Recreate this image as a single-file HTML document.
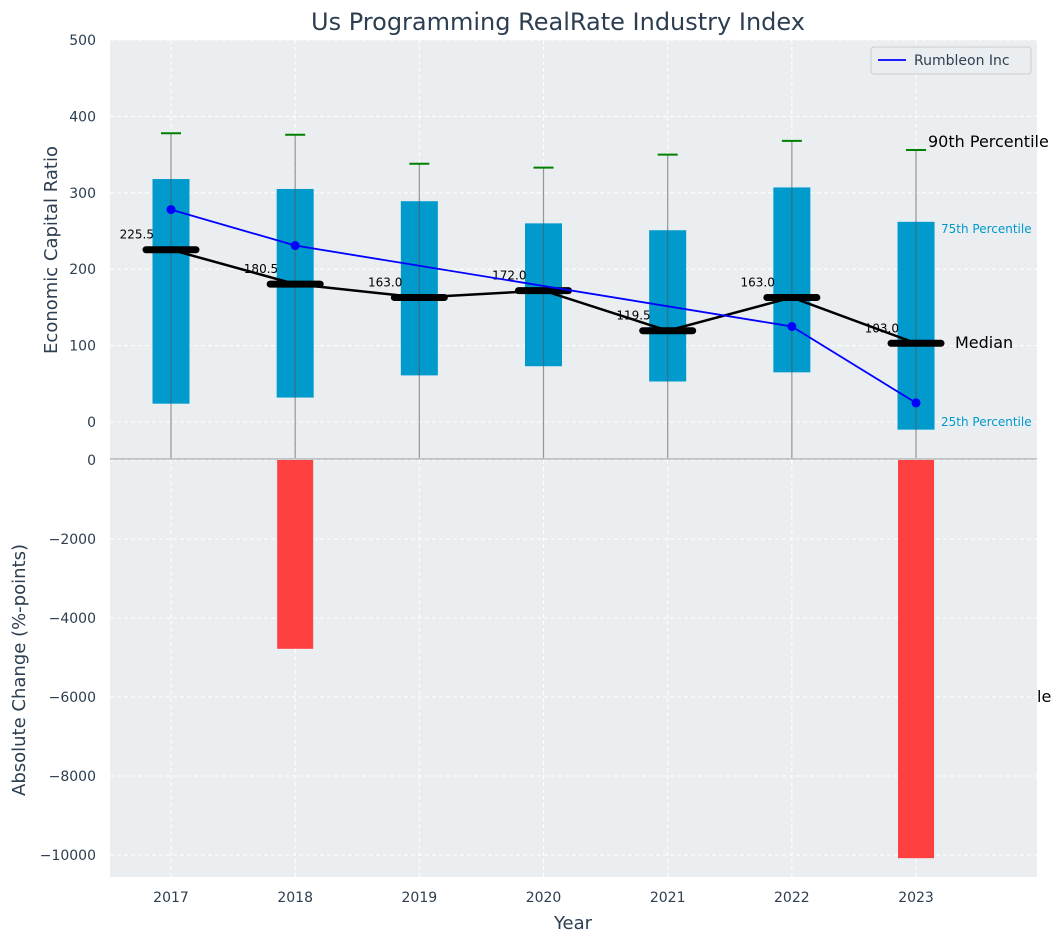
<!DOCTYPE html>
<html><head><meta charset="utf-8"><style>
body{margin:0;background:#fff;font-family:"Liberation Sans","DejaVu Sans",sans-serif;}
svg{display:block}
</style></head><body>
<svg id="chart" width="1063" height="942" viewBox="0 0 1063 942" xmlns="http://www.w3.org/2000/svg" font-family="DejaVu Sans, Liberation Sans, sans-serif"></svg>
<script>
const years=[2017,2018,2019,2020,2021,2022,2023];
const q1=[24,32,61,73,53,65,-10];
const q3=[318,305,289,260,251,307,262];
const p90=[378,376,338,333,350,368,356];
const median=[225.5,180.5,163.0,172.0,119.5,163.0,103.0];
const rumbleon=[278,231,null,null,null,125,25];
const absChange=[0,-4780,0,0,0,0,-10080];
const topTicks=[0,100,200,300,400,500];
const botTicks=[0,-2000,-4000,-6000,-8000,-10000];

const svg=document.getElementById('chart');
const NS='http://www.w3.org/2000/svg';
function mk(t,a,txt){const e=document.createElementNS(NS,t);for(const k in a)e.setAttribute(k,a[k]);if(txt!==undefined)e.textContent=txt;svg.appendChild(e);return e;}
const L=110,R=1037,T1=40,B1=459,T2=459,B2=877;
const xS=y=>171+(y-2017)*124.17;
const y1=v=>422-v*0.764;
const y2=v=>460+(-v)*0.0395;

let e;
e=mk('rect',{x:L,y:T1,width:R-L,height:B1-T1,fill:'#eaeef0'});

e=mk('rect',{x:L,y:T2,width:R-L,height:B2-T2,fill:'#eaeef0'});

// grids
years.forEach(y=>{
  e=mk('line',{x1:xS(y),x2:xS(y),y1:T1,y2:B2,stroke:'#fff','stroke-dasharray':'4,3','stroke-width':1});
  
  e=mk('text',{x:xS(y),y:902,'text-anchor':'middle','font-size':14,fill:'#2c3e50'},y);
  
});
topTicks.forEach(v=>{
  e=mk('line',{x1:L,x2:R,y1:y1(v),y2:y1(v),stroke:'#fff','stroke-dasharray':'4,3'});
  
  e=mk('text',{x:96,y:y1(v)+5,'text-anchor':'end','font-size':14,fill:'#2c3e50'},v);
  
});
botTicks.forEach(v=>{
  e=mk('line',{x1:L,x2:R,y1:y2(v),y2:y2(v),stroke:'#fff','stroke-dasharray':'4,3'});
  
  e=mk('text',{x:96,y:y2(v)+5,'text-anchor':'end','font-size':14,fill:'#2c3e50'},v<0?'\u2212'+Math.abs(v):v);
  
});
// boxes
years.forEach((y,i)=>{
  const x=xS(y);
  e=mk('rect',{x:x-18.5,y:y1(q3[i]),width:37,height:y1(q1[i])-y1(q3[i]),fill:'#009acd'});
  
  e=mk('line',{x1:x,x2:x,y1:y1(p90[i]),y2:458,stroke:'#555','stroke-opacity':0.6,'stroke-width':1.2});
  
  e=mk('line',{x1:x-10,x2:x+10,y1:y1(p90[i]),y2:y1(p90[i]),stroke:'#008000','stroke-width':2});
  
});
// median line
e=mk('polyline',{points:years.map((y,i)=>xS(y)+','+y1(median[i])).join(' '),fill:'none',stroke:'#000','stroke-width':2.5});

years.forEach((y,i)=>{
  const x=xS(y);
  e=mk('line',{x1:x-25,x2:x+25,y1:y1(median[i]),y2:y1(median[i]),stroke:'#000','stroke-width':7,'stroke-linecap':'round'});
  
  e=mk('text',{x:x-17,y:y1(median[i])-11,'text-anchor':'end','font-size':12,fill:'#000'},median[i].toFixed(1));
  
});
// rumbleon
const rp=years.map((y,i)=>rumbleon[i]==null?null:[xS(y),y1(rumbleon[i])]).filter(p=>p);
e=mk('polyline',{points:rp.map(p=>p.join(',')).join(' '),fill:'none',stroke:'#0000ff','stroke-width':1.8});

rp.forEach(p=>{e=mk('circle',{cx:p[0],cy:p[1],r:4.5,fill:'#0000ff'});
  });
// bars
years.forEach((y,i)=>{
  if(absChange[i]===0)return;
  e=mk('rect',{x:xS(y)-18,y:y2(0),width:36,height:y2(absChange[i])-y2(0),fill:'#ff4040'});
  
});
e=mk('line',{x1:L,x2:R,y1:459,y2:459,stroke:'#999','stroke-width':1});

// annotations
const ann=[[928,147,'90th Percentile',16,'#000'],[941,233,'75th Percentile',12,'#0099cc'],[955,348,'Median',16,'#000'],[941,426,'25th Percentile',12,'#0099cc'],[1037,702,'le',16,'#000']];
ann.forEach(a=>{e=mk('text',{x:a[0],y:a[1],'font-size':a[3],fill:a[4]},a[2]);
  });
// legend
e=mk('rect',{x:871,y:47,width:160,height:27,rx:3,fill:'#eaeef0',stroke:'#ccc'});

e=mk('line',{x1:878,x2:906,y1:60,y2:60,stroke:'#0000ff','stroke-width':1.8});

e=mk('text',{x:914,y:65,'font-size':14,fill:'#2c3e50'},'Rumbleon Inc');

// titles
e=mk('text',{x:558,y:30,'text-anchor':'middle','font-size':24,fill:'#2c3e50'},'Us Programming RealRate Industry Index');

e=mk('text',{x:573,y:929,'text-anchor':'middle','font-size':18,fill:'#2c3e50'},'Year');

e=mk('text',{x:0,y:0,'text-anchor':'middle','font-size':18,fill:'#2c3e50',transform:'translate(57,250) rotate(-90)'},'Economic Capital Ratio');

e=mk('text',{x:0,y:0,'text-anchor':'middle','font-size':18,fill:'#2c3e50',transform:'translate(25,670) rotate(-90)'},'Absolute Change (%-points)');

</script>
</body></html>
